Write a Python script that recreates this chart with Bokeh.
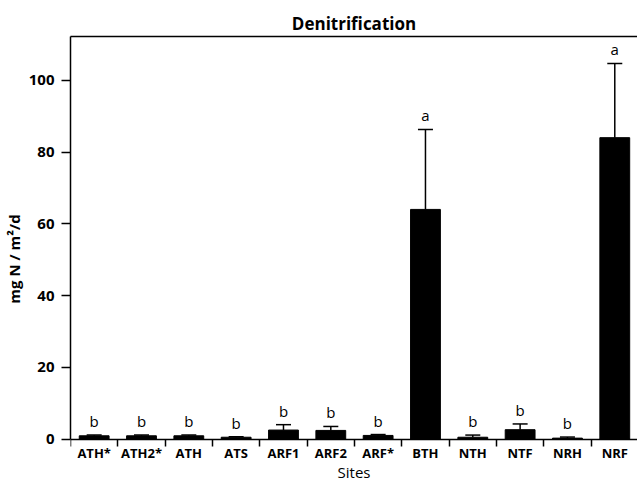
import numpy as np
from bokeh.plotting import figure
from bokeh.models import (ColumnDataSource, Range1d, FixedTicker, LinearAxis,
                          Whisker, TeeHead)
from bokeh.core.properties import value
from bokeh.embed import file_html
from bokeh.resources import INLINE

# ---- data ----
sites = ["ATH*", "ATH2*", "ATH", "ATS", "ARF1", "ARF2", "ARF*",
         "BTH", "NTH", "NTF", "NRH", "NRF"]
means = [0.9, 0.9, 0.9, 0.5, 2.5, 2.4, 1.0, 64.0, 0.5, 2.6, 0.25, 84.0]
errors = [0.25, 0.25, 0.25, 0.1, 1.5, 1.1, 0.25, 22.3, 0.6, 1.6, 0.3, 20.7]
letters = ["b", "b", "b", "b", "b", "b", "b", "a", "b", "b", "b", "a"]
y_ticks = [0, 20, 40, 60, 80, 100]
y_max = 112.2
y_min = -11.84      # room below the zero line for tick labels and axis title
x_visible = 11.98   # number of category slots visible in the frame

FONT = "Open Sans"

xs = np.arange(1, len(sites) + 1)
upper = [m + e for m, e in zip(means, errors)]
src = ColumnDataSource(dict(x=xs, site=sites, mean=means, upper=upper, letter=letters))

p = figure(width=637, height=481, output_backend="svg", toolbar_location=None,
           x_range=Range1d(0.5, 0.5 + x_visible), y_range=Range1d(y_min, y_max),
           min_border_left=70, min_border_right=0, min_border_top=36,
           min_border_bottom=0, title="Denitrification")
p.grid.visible = False
p.outline_line_color = None
p.background_fill_color = "white"
p.border_fill_color = "white"

p.title.align = "center"
p.title.offset = 1
p.title.text_font = FONT
p.title.text_font_size = "17px"
p.title.text_font_style = "bold"
p.title.text_color = "black"
p.title.standoff = 4

# bars
p.vbar(x="x", top="mean", bottom=0, width=0.63, source=src,
       fill_color="black", line_color="black")

# upper error bars with caps
wh = Whisker(base="x", lower="mean", upper="upper", source=src, dimension="height",
             line_color="black", line_width=1.5, lower_head=None,
             upper_head=TeeHead(size=15, line_color="black", line_width=1.5))
p.add_layout(wh)

# significance letters
p.text(x="x", y="upper", text="letter", source=src, text_align="center",
       text_baseline="bottom", y_offset=-4, text_font=value(FONT),
       text_font_size="15px", text_color="#000000")

# x axis, pinned at zero
xa = p.xaxis[0]
xa.fixed_location = 0
xa.ticker = FixedTicker(ticks=list(xs), minor_ticks=list(np.arange(0.5, len(sites) + 0.5, 1.0)))
xa.major_label_overrides = {int(x): s for x, s in zip(xs, sites)}
xa.major_tick_line_color = None
xa.major_tick_out = 0
xa.major_tick_in = 0
xa.minor_tick_out = 7
xa.minor_tick_in = 0
xa.minor_tick_line_color = "black"
xa.minor_tick_line_width = 1.5
xa.axis_line_width = 1.5
xa.axis_line_color = "black"
xa.major_label_standoff = -2
xa.major_label_text_font = FONT
xa.major_label_text_font_size = "13px"
xa.major_label_text_font_style = "bold"
xa.major_label_text_color = "black"
xa.axis_label = "Sites"
xa.axis_label_text_font = FONT
xa.axis_label_text_font_size = "15px"
xa.axis_label_text_font_style = "normal"
xa.axis_label_text_color = "black"
xa.axis_label_standoff = -4

# y axis
ya = p.yaxis[0]
ya.bounds = (0, y_max)
ya.ticker = FixedTicker(ticks=y_ticks)
ya.major_tick_out = 9
ya.major_tick_in = 0
ya.minor_tick_line_color = None
ya.major_tick_line_width = 1.5
ya.major_tick_line_color = "black"
ya.axis_line_width = 1.5
ya.axis_line_color = "black"
ya.major_label_standoff = 7
ya.major_label_text_font = FONT
ya.major_label_text_font_size = "15px"
ya.major_label_text_font_style = "bold"
ya.major_label_text_color = "black"
ya.axis_label = "mg N / m²/d"
ya.axis_label_text_font = FONT
ya.axis_label_text_font_size = "15px"
ya.axis_label_text_font_style = "bold"
ya.axis_label_text_color = "black"
ya.axis_label_standoff = 2

# top border line
top = LinearAxis(ticker=FixedTicker(ticks=[]), axis_line_width=1.5, axis_line_color="black",
                 major_tick_line_color=None, minor_tick_line_color=None,
                 major_label_text_font_size="0px")
p.add_layout(top, "above")

open("out.html", "w").write(file_html(p, INLINE))
